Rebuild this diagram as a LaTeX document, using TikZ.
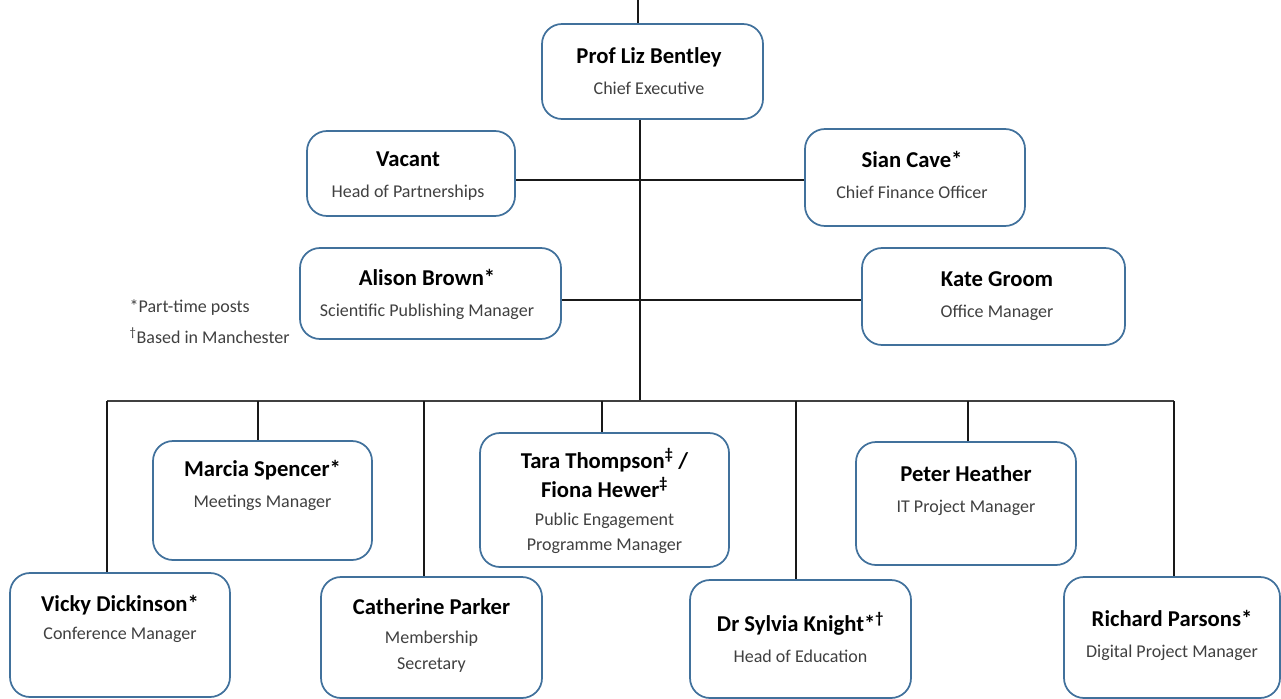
\documentclass[tikz,border=0pt]{standalone}
\usepackage{fontspec}
\setmainfont{Carlito}
\usepackage{tikz}
\definecolor{boxblue}{HTML}{41719C}
\definecolor{subgrey}{HTML}{404040}
\newcommand{\nm}[1]{{\fontsize{17}{19.5}\selectfont\bfseries\color{black}#1}}
\newcommand{\ptime}{*}
\newcommand{\manc}{\textsuperscript{†}}
\newcommand{\dbl}{\textsuperscript{‡}}

\begin{document}
\begin{tikzpicture}[x=0.75pt, y=-0.75pt,
    post/.style={draw=boxblue, line width=1.3pt, rounded corners=15pt, fill=white},
    who/.style={align=center, font=\fontsize{13.5}{19.5}\selectfont, text=subgrey},
    link/.style={line width=0.9pt, draw=black!90}]
  \useasboundingbox (0,0) rectangle (1281,699);

  % boxes
  \node[post, minimum width=221*0.75pt, minimum height=95*0.75pt] (ceo) at (652.5,71.5) {};
  \node[post, minimum width=208*0.75pt, minimum height=85*0.75pt] (vacant) at (411,173.5) {};
  \node[post, minimum width=220*0.75pt, minimum height=97*0.75pt] (sian) at (915,177.5) {};
  \node[post, minimum width=261*0.75pt, minimum height=91*0.75pt] (alison) at (430.5,293.5) {};
  \node[post, minimum width=263*0.75pt, minimum height=97*0.75pt] (kate) at (993.5,296.5) {};
  \node[post, minimum width=219*0.75pt, minimum height=119*0.75pt] (marcia) at (262.5,500.5) {};
  \node[post, minimum width=249*0.75pt, minimum height=134*0.75pt] (tara) at (604.5,500) {};
  \node[post, minimum width=220*0.75pt, minimum height=123*0.75pt] (peter) at (966,503.5) {};
  \node[post, minimum width=220*0.75pt, minimum height=124*0.75pt] (vicky) at (120,635) {};
  \node[post, minimum width=221*0.75pt, minimum height=121*0.75pt] (catherine) at (431.5,637.5) {};
  \node[post, minimum width=221*0.75pt, minimum height=118*0.75pt] (sylvia) at (800.5,639) {};
  \node[post, minimum width=216*0.75pt, minimum height=121*0.75pt] (richard) at (1172,637.5) {};

  % names and posts
  \node[who] (ceo-t) at (649,71.5) {\nm{Prof Liz Bentley}\\[3.75pt]Chief Executive};
  \node[who] (vacant-t) at (408,176.5) {\nm{Vacant}\\[3.75pt]Head of Partnerships};
  \node[who] (sian-t) at (912,174.5) {\nm{Sian Cave\ptime}\\[3.75pt]Chief Finance Officer};
  \node[who] (alison-t) at (427,294) {\nm{Alison Brown\ptime}\\[3.75pt]Scientific Publishing Manager};
  \node[who] (kate-t) at (997,296) {\nm{Kate Groom}\\[3.75pt]Office Manager};
  \node[who] (marcia-t) at (262.5,485.5) {\nm{Marcia Spencer\ptime}\\[3.75pt]Meetings Manager};
  \node[who] (tara-t) at (604.5,501) {\nm{Tara Thompson\dbl\ /}\\[2.25pt]\nm{Fiona Hewer\dbl}\\[1.5pt]Public Engagement\\[-0.75pt]Programme Manager};
  \node[who] (peter-t) at (966,491) {\nm{Peter Heather}\\[3.75pt]IT Project Manager};
  \node[who] (vicky-t) at (120,618.5) {\nm{Vicky Dickinson\ptime}\\[1.5pt]Conference Manager};
  \node[who] (catherine-t) at (431.5,635.5) {\nm{Catherine Parker}\\[2.25pt]Membership\\Secretary};
  \node[who] (sylvia-t) at (800.5,637.5) {\nm{Dr Sylvia Knight\ptime\manc}\\[3.75pt]Head of Education};
  \node[who] (richard-t) at (1172,635.5) {\nm{Richard Parsons\ptime}\\[3.75pt]Digital Project Manager};

  % key
  \node[who, anchor=west] (key1) at (125,308) {*Part-time posts};
  \node[who, anchor=west] (key2) at (125,336) {\manc Based in Manchester};

  % lines
  \coordinate (top) at (638,0);
  \coordinate (trunk) at (640,401);
  \coordinate (row1) at (640,180);
  \coordinate (row2) at (640,300);
  \coordinate (d1) at (107,401);
  \coordinate (d2) at (258,401);
  \coordinate (d3) at (424,401);
  \coordinate (d4) at (602,401);
  \coordinate (d5) at (796,401);
  \coordinate (d6) at (968,401);
  \coordinate (d7) at (1174,401);

  \draw[link] (top) -- (top |- ceo.north);
  \draw[link] (trunk |- ceo.south) -- (trunk);
  \draw[link] (row1 -| vacant.east) -- (row1 -| sian.west);
  \draw[link] (row2 -| alison.east) -- (row2 -| kate.west);
  \draw[link, line width=1.5pt, draw=black!75] (d1) -- (d7);
  \draw[link] (d1) -- (d1 |- vicky.north);
  \draw[link] (d2) -- (d2 |- marcia.north);
  \draw[link] (d3) -- (d3 |- catherine.north);
  \draw[link] (d4) -- (d4 |- tara.north);
  \draw[link] (d5) -- (d5 |- sylvia.north);
  \draw[link] (d6) -- (d6 |- peter.north);
  \draw[link] (d7) -- (d7 |- richard.north);
\end{tikzpicture}
\end{document}
